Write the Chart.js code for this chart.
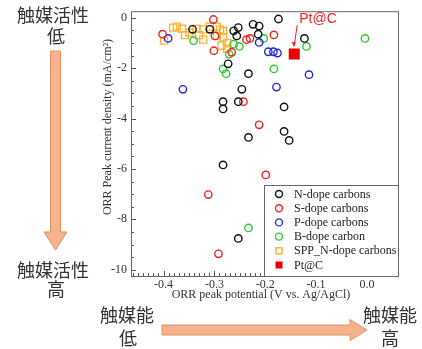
<!DOCTYPE html>
<html>
<head>
<meta charset="utf-8">
<script src="https://cdn.jsdelivr.net/npm/chart.js@4.4.0/dist/chart.umd.min.js"></script>
<style>
  html, body { margin: 0; padding: 0; background: #fff; }
  #wrap { position: relative; width: 422px; height: 349px; }
</style>
</head>
<body>
<div id="wrap"><canvas id="orrChart"></canvas></div>
<script>
// ORR peak potential (V) vs. peak current density (mA/cm2), one list per catalyst family
const nDope = [
    [-0.343, -0.46], [-0.309, -0.46], [-0.262, -0.52], [-0.253, -0.39], [-0.256, -0.72],
    [-0.224, -0.26], [-0.212, -0.33], [-0.214, -0.65], [-0.174, -0.05], [-0.123, -0.82],
    [-0.273, -1.83], [-0.233, -2.22], [-0.246, -2.84], [-0.253, -3.33], [-0.283, -3.33],
    [-0.283, -3.62], [-0.233, -4.75], [-0.163, -3.54], [-0.163, -4.51], [-0.153, -4.87],
    [-0.283, -5.84], [-0.253, -8.76]
];
const sDope = [
    [-0.302, -0.07], [-0.402, -0.65], [-0.299, -0.72], [-0.301, -1.31], [-0.237, -0.87],
    [-0.230, -0.82], [-0.183, -0.68], [-0.266, -1.37], [-0.243, -3.33], [-0.212, -4.25],
    [-0.199, -6.24], [-0.312, -7.02], [-0.292, -9.37]
];
const pDope = [
    [-0.391, -0.82], [-0.212, -0.98], [-0.194, -1.35], [-0.184, -1.35], [-0.176, -1.40],
    [-0.178, -2.75], [-0.362, -2.84], [-0.114, -2.26]
];
const bDope = [
    [-0.341, -0.91], [-0.203, -0.82], [-0.183, -2.03], [-0.262, -1.05], [-0.251, -1.14],
    [-0.271, -1.44], [-0.283, -2.03], [-0.277, -2.22], [-0.119, -1.14], [-0.004, -0.82],
    [-0.233, -8.34]
];
const sppNDope = [
    [-0.399, -0.91], [-0.381, -0.39], [-0.374, -0.35], [-0.364, -0.43], [-0.358, -0.69],
    [-0.349, -0.59], [-0.335, -0.43], [-0.330, -0.69], [-0.322, -0.46], [-0.322, -0.87],
    [-0.309, -0.35], [-0.295, -0.35], [-0.289, -0.46], [-0.283, -0.52], [-0.295, -0.72],
    [-0.283, -0.78], [-0.286, -1.11], [-0.275, -1.01], [-0.275, -1.22]
];
const ptC = [[-0.143, -1.44]];

const seriesLabels = ['N-dope carbons', 'S-dope carbons', 'P-dope carbons', 'B-dope carbon', 'SPP_N-dope carbons', 'Pt@C'];
const xTicks = [-0.4, -0.3, -0.2, -0.1, 0.0];
const yTicks = [0, -2, -4, -6, -8, -10];

const SERIF = '"Liberation Serif", "Times New Roman", serif';
const CJK = '"Noto Sans CJK JP", sans-serif';

const toPoints = arr => arr.map(p => ({ x: p[0], y: p[1] }));

function circleSet(label, data, color) {
    return {
        label: label,
        data: toPoints(data),
        pointStyle: 'circle',
        pointRadius: 3.7,
        pointBorderWidth: 1.4,
        pointBorderColor: color,
        pointBackgroundColor: 'rgba(0,0,0,0)',
        borderColor: color,
        showLine: false
    };
}

const datasets = [
    circleSet(seriesLabels[0], nDope, '#111111'),
    circleSet(seriesLabels[1], sDope, '#ee2222'),
    circleSet(seriesLabels[2], pDope, '#2626dd'),
    circleSet(seriesLabels[3], bDope, '#33c933'),
    {
        label: seriesLabels[4],
        data: toPoints(sppNDope),
        pointStyle: 'rect',
        pointRadius: 5,
        pointBorderWidth: 1.3,
        pointBorderColor: '#ffb030',
        pointBackgroundColor: 'rgba(0,0,0,0)',
        borderColor: '#ffb030',
        showLine: false
    },
    {
        label: seriesLabels[5],
        data: toPoints(ptC),
        pointStyle: 'rect',
        pointRadius: 7.8,
        pointBorderWidth: 0,
        pointBackgroundColor: '#ee0000',
        borderColor: '#ee0000',
        showLine: false
    }
];

// Frame, inner ticks, axis titles, legend box and the side annotations
const decorations = {
    id: 'decorations',
    afterDraw(chart) {
        const ctx = chart.ctx;
        const area = chart.chartArea;
        const xs = chart.scales.x;
        const ys = chart.scales.y;
        ctx.save();

        // minor/major ticks pointing into the plot
        ctx.strokeStyle = '#555';
        ctx.lineWidth = 1;
        ctx.beginPath();
        for (let i = -46; i <= 6; i++) {
            const px = Math.round(xs.getPixelForValue(i / 100)) + 0.5;
            const len = i % 10 === 0 ? 5 : 3;
            ctx.moveTo(px, area.bottom);
            ctx.lineTo(px, area.bottom - len);
        }
        for (let j = -20; j <= 0; j++) {
            const py = Math.round(ys.getPixelForValue(j / 2)) + 0.5;
            const len = j % 4 === 0 ? 5 : 3;
            ctx.moveTo(area.left, py);
            ctx.lineTo(area.left + len, py);
        }
        ctx.stroke();

        // legend
        const lx = 264, ly = 185;
        ctx.fillStyle = '#fff';
        ctx.fillRect(lx, ly, area.right - lx, area.bottom - ly);
        ctx.strokeStyle = '#666';
        ctx.strokeRect(lx + 0.5, ly + 0.5, area.right - lx, area.bottom - ly);
        ctx.font = '12px ' + SERIF;
        ctx.textBaseline = 'middle';
        ctx.textAlign = 'left';
        chart.data.datasets.forEach((ds, k) => {
            const cy = 194 + k * 14.2;
            const mx = 279;
            if (ds.pointStyle === 'circle') {
                ctx.strokeStyle = ds.pointBorderColor;
                ctx.lineWidth = 1.4;
                ctx.beginPath();
                ctx.arc(mx, cy, 3.5, 0, Math.PI * 2);
                ctx.stroke();
            } else if (ds.pointBorderWidth > 0) {
                ctx.strokeStyle = ds.pointBorderColor;
                ctx.lineWidth = 1.4;
                ctx.strokeRect(mx - 3, cy - 3, 6, 6);
            } else {
                ctx.fillStyle = ds.pointBackgroundColor;
                ctx.fillRect(mx - 3.5, cy - 3.5, 7, 7);
            }
            ctx.fillStyle = '#222';
            ctx.fillText(ds.label, 294, cy + 0.5);
        });

        // plot frame
        ctx.strokeStyle = '#666';
        ctx.lineWidth = 1;
        ctx.strokeRect(area.left + 0.5, area.top + 0.5, area.right - area.left, area.bottom - area.top);

        // axis titles
        ctx.fillStyle = '#333';
        ctx.font = '12px ' + SERIF;
        ctx.textAlign = 'center';
        ctx.fillText('ORR peak potential (V vs. Ag/AgCl)', 261, 295);
        ctx.save();
        ctx.translate(108, 127);
        ctx.rotate(-Math.PI / 2);
        ctx.fillText('ORR Peak current density (mA/cm\u00B2)', 0, 0);
        ctx.restore();

        // Pt@C callout
        const pt = chart.getDatasetMeta(5).data[0];
        ctx.strokeStyle = '#ee2222';
        ctx.fillStyle = '#ee2222';
        ctx.lineWidth = 1;
        ctx.beginPath();
        ctx.moveTo(pt.x + 3, pt.y - 29);
        ctx.lineTo(pt.x, pt.y - 9);
        ctx.stroke();
        ctx.beginPath();
        ctx.moveTo(pt.x - 0.2, pt.y - 7);
        ctx.lineTo(pt.x - 2.6, pt.y - 12);
        ctx.lineTo(pt.x + 1.8, pt.y - 11.5);
        ctx.closePath();
        ctx.fill();
        ctx.font = '14px "Liberation Sans", Arial, sans-serif';
        ctx.textAlign = 'left';
        ctx.fillText('Pt@C', pt.x + 5, 19);

        // activity labels (Japanese)
        ctx.fillStyle = '#333';
        ctx.font = '18px ' + CJK;
        ctx.textAlign = 'center';
        ctx.fillText('触媒活性', 53, 15);
        ctx.fillText('低', 56, 36);
        ctx.fillText('触媒活性', 53, 270);
        ctx.fillText('高', 56, 289);
        ctx.fillText('触媒能', 127, 315);
        ctx.fillText('低', 128, 338);
        ctx.fillText('触媒能', 390, 315);
        ctx.fillText('高', 390, 338);

        // big arrows
        ctx.fillStyle = '#f6b48e';
        ctx.strokeStyle = '#e48f62';
        ctx.lineWidth = 1;
        const ax = 55.5;
        ctx.beginPath();
        ctx.moveTo(ax - 5, 51);
        ctx.lineTo(ax + 5, 51);
        ctx.lineTo(ax + 5, 232);
        ctx.lineTo(ax + 11.5, 232);
        ctx.lineTo(ax, 250);
        ctx.lineTo(ax - 11.5, 232);
        ctx.lineTo(ax - 5, 232);
        ctx.closePath();
        ctx.fill();
        ctx.stroke();
        const ay = 330;
        ctx.beginPath();
        ctx.moveTo(162, ay - 5);
        ctx.lineTo(350, ay - 5);
        ctx.lineTo(350, ay - 10.5);
        ctx.lineTo(367, ay);
        ctx.lineTo(350, ay + 10.5);
        ctx.lineTo(350, ay + 5);
        ctx.lineTo(162, ay + 5);
        ctx.closePath();
        ctx.fill();
        ctx.stroke();

        ctx.restore();
    }
};

new Chart(document.getElementById('orrChart'), {
    type: 'scatter',
    data: { datasets: datasets },
    options: {
        responsive: true,
        maintainAspectRatio: false,
        animation: false,
        layout: { padding: { left: 95, right: 24, top: 8, bottom: 55 } },
        plugins: {
            legend: { display: false },
            tooltip: { enabled: false }
        },
        scales: {
            x: {
                type: 'linear',
                min: -0.464,
                max: 0.061,
                afterBuildTicks: s => { s.ticks = xTicks.map(v => ({ value: v })); },
                afterFit: s => { s.height = 18; },
                ticks: {
                    callback: v => Number(v).toFixed(1),
                    font: { family: SERIF, size: 12 },
                    color: '#333',
                    padding: 2,
                    maxRotation: 0,
                    autoSkip: false
                },
                grid: { display: false, drawTicks: false, tickLength: 0 },
                border: { display: false }
            },
            y: {
                type: 'linear',
                min: -10.25,
                max: 0.26,
                afterBuildTicks: s => { s.ticks = yTicks.map(v => ({ value: v })); },
                afterFit: s => { s.width = 36; },
                ticks: {
                    callback: v => String(v),
                    font: { family: SERIF, size: 12 },
                    color: '#333',
                    padding: 4,
                    autoSkip: false
                },
                grid: { display: false, drawTicks: false, tickLength: 0 },
                border: { display: false }
            }
        }
    },
    plugins: [decorations]
});
</script>
</body>
</html>
